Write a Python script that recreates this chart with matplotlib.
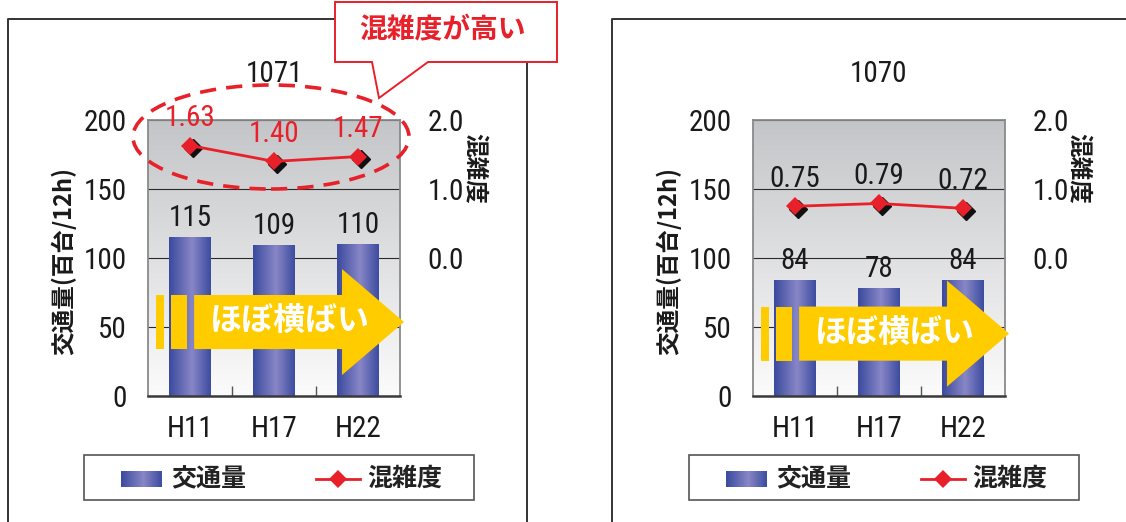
import numpy as np
import matplotlib
matplotlib.use("Agg")
import matplotlib.pyplot as plt
from matplotlib.patches import Polygon, Rectangle, Ellipse
from matplotlib.lines import Line2D
from matplotlib.colors import LinearSegmentedColormap
from matplotlib.ticker import FormatStrFormatter
from matplotlib.transforms import offset_copy

# ---- data ----
years = ["H11", "H17", "H22"]
traffic_1071 = [115, 109, 110]
congestion_1071 = [1.63, 1.40, 1.47]
traffic_1070 = [84, 78, 84]
congestion_1070 = [0.75, 0.79, 0.72]
route_titles = ["1071", "1070"]
traffic_ticks = [0, 50, 100, 150, 200]
congestion_ticks = [0.0, 1.0, 2.0]

W, H = 1126, 522
fig = plt.figure(figsize=(W / 100, H / 100), dpi=100)
fig.patch.set_facecolor("white")

NUM = ["Roboto Condensed", "Liberation Sans", "DejaVu Sans"]
JP = ["Noto Sans CJK JP", "DejaVu Sans"]
NUM_SIZE = 21
RED = "#E8202A"
YELLOW = "#FFCC00"
DARK = "#1a1a1a"


def px(x, y):
    """pixel position (origin top-left) -> figure fraction"""
    return (x / W, 1 - y / H)


bar_cmap = LinearSegmentedColormap.from_list(
    "bar", [(0.0, "#3A4A9E"), (0.55, "#8886C6"), (1.0, "#3C4CA0")])
bg_cmap = LinearSegmentedColormap.from_list(
    "bg", [(0.0, "#FBFBFB"), (1.0, "#C4C5C8")])
hgrad = np.linspace(0, 1, 256).reshape(1, -1)
vgrad = np.linspace(0, 1, 256).reshape(-1, 1)


def panel(left_px, title, traffic, congestion, line_label_color, arrow_cy):
    top_px, bot_px, w_px = 120, 396, 252
    ax = fig.add_axes([left_px / W, 1 - bot_px / H, w_px / W, (bot_px - top_px) / H])
    x = np.arange(len(years))

    # plot-area background
    ax.imshow(vgrad, cmap=bg_cmap, extent=[0, 1, 0, 1], transform=ax.transAxes,
              aspect="auto", origin="lower", zorder=0)

    bars = ax.bar(x, traffic, width=0.5, color="#3F4FA0", zorder=2)
    for b in bars:
        x0, w, h = b.get_x(), b.get_width(), b.get_height()
        ax.imshow(hgrad, cmap=bar_cmap, extent=[x0, x0 + w, 0, h],
                  aspect="auto", zorder=2.1)
        ax.annotate(f"{h:.0f}", (b.get_x() + w / 2, h), xytext=(0, 8.2),
                    textcoords="offset points", ha="center", va="baseline",
                    fontsize=NUM_SIZE, family=NUM, color=DARK, zorder=6)

    ax.set_xlim(-0.5, len(years) - 0.5)
    ax.set_ylim(0, 200)
    ax.set_yticks(traffic_ticks)
    ax.set_xticks(x)
    ax.set_xticklabels(years)
    ax.set_xticks([0.5, 1.5], minor=True)
    ax.tick_params(axis="x", which="major", length=0, pad=14)
    ax.tick_params(axis="x", which="minor", direction="in", length=7,
                   color="#555555", width=1)
    ax.tick_params(axis="y", length=0, pad=15)
    for lab in ax.get_xticklabels() + ax.get_yticklabels():
        lab.set_fontfamily(NUM)
        lab.set_fontsize(NUM_SIZE)
        lab.set_color(DARK)
    ax.yaxis.grid(True, color="#2a2a2a", lw=0.8, zorder=1)
    ax.set_axisbelow(True)
    for s in ("left", "right", "top"):
        ax.spines[s].set_color("#8a8a8a")
        ax.spines[s].set_linewidth(1.3)
    ax.spines["bottom"].set_color("#3a3a3a")
    ax.spines["bottom"].set_linewidth(1.8)

    ax.set_ylabel("交通量(百台/12h)", family=JP, fontsize=17, fontweight="bold",
                  color=DARK)
    ax.yaxis.set_label_coords((76 - 148) / w_px, 0.49)

    ax.text(0.5, (bot_px - 82) / (bot_px - top_px), title, transform=ax.transAxes,
            ha="center", va="baseline", fontsize=NUM_SIZE, family=NUM, color=DARK)

    # congestion on the secondary axis
    ax2 = ax.twinx()
    ax2.set_ylim(-2, 2)
    ax2.set_yticks(congestion_ticks)
    ax2.yaxis.set_major_formatter(FormatStrFormatter("%.1f"))
    ax2.tick_params(axis="y", length=0, pad=20)
    for lab in ax2.get_yticklabels():
        lab.set_fontfamily(NUM)
        lab.set_fontsize(NUM_SIZE)
        lab.set_color(DARK)
    for s in ax2.spines.values():
        s.set_visible(False)
    shadow = offset_copy(ax2.transData, fig=fig, x=2.5, y=-2.5, units="dots")
    ax2.plot(x, congestion, ls="none", marker="D", ms=9, color="#111111",
             transform=shadow, zorder=3)
    ax2.plot(x, congestion, color=RED, lw=2, marker="D", ms=9,
             markeredgewidth=0, zorder=4)
    for xi, c in zip(x, congestion):
        ax2.annotate(f"{c:.2f}", (xi, c), xytext=(0, 14.0), textcoords="offset points",
                     ha="center", va="baseline", fontsize=NUM_SIZE, family=NUM,
                     color=line_label_color)

    # trend arrow
    cy = arrow_cy
    bh, hh = 0.098, 0.192
    for a, b in [(0.032, 0.063), (0.091, 0.155)]:
        ax.add_patch(Rectangle((a, cy - bh), b - a, 2 * bh, transform=ax.transAxes,
                               color=YELLOW, lw=0, zorder=5, clip_on=False))
    arrow = Polygon([(0.183, cy - bh), (0.77, cy - bh), (0.77, cy - hh),
                     (1.016, cy), (0.77, cy + hh), (0.77, cy + bh), (0.183, cy + bh)],
                    closed=True, transform=ax.transAxes, color=YELLOW, lw=0,
                    zorder=5, clip_on=False)
    ax.add_patch(arrow)
    ax.text(0.558, cy, "ほぼ横ばい", transform=ax.transAxes, ha="center",
            va="center", family=JP, fontsize=23, fontweight="bold", color="white",
            zorder=6)
    return ax, ax2


# panel frames
fig.add_artist(Line2D([px(8, 0)[0], px(8, 0)[0], px(527, 0)[0], px(527, 0)[0]],
                      [px(0, 530)[1], px(0, 19)[1], px(0, 19)[1], px(0, 530)[1]],
                      transform=fig.transFigure, color="#333333", lw=1.4, zorder=0))
fig.add_artist(Line2D([px(612, 0)[0], px(612, 0)[0], px(1140, 0)[0]],
                      [px(0, 530)[1], px(0, 19)[1], px(0, 19)[1]],
                      transform=fig.transFigure, color="#333333", lw=1.4, zorder=0))

axL, axL2 = panel(148, route_titles[0], traffic_1071, congestion_1071, RED, 0.268)
axR, axR2 = panel(753, route_titles[1], traffic_1070, congestion_1070, DARK, 0.226)

# secondary axis titles
for xc in (475, 1079):
    fig.text(*px(xc, 168), "混雑度", rotation=-90, ha="center", va="center",
             family=JP, fontsize=17, fontweight="bold", color=DARK)

# legends
for off in (0, 605):
    fig.add_artist(Rectangle(px(84 + off, 500), 390 / W, 45 / H, transform=fig.transFigure,
                             facecolor="white", edgecolor="#555555", lw=1.2, zorder=3))
    lax = fig.add_axes([(121 + off) / W, 1 - 487 / H, 41 / W, 16 / H], zorder=4)
    lax.imshow(hgrad, cmap=bar_cmap, aspect="auto", extent=[0, 1, 0, 1])
    lax.set_axis_off()
    fig.text(*px(171 + off, 479), "交通量", ha="left", va="center", family=JP,
             fontsize=18, fontweight="bold", color="#222222", zorder=5)
    fig.add_artist(Line2D([(316 + off) / W, (360 + off) / W], [1 - 479 / H] * 2,
                          transform=fig.transFigure, color=RED, lw=2, zorder=5))
    fig.add_artist(Line2D([(338 + off) / W], [1 - 479 / H], transform=fig.transFigure,
                          color=RED, marker="D", ms=9, mew=0, zorder=6))
    fig.text(*px(367 + off, 479), "混雑度", ha="left", va="center", family=JP,
             fontsize=18, fontweight="bold", color="#222222", zorder=5)

# highlight: dashed ellipse and callout
fig.add_artist(Ellipse(px(271, 137), 276 / W, 104 / H, transform=fig.transFigure,
                       fill=False, edgecolor=RED, lw=2.6, ls=(0, (4.5, 2.8)), zorder=10))
callout = Polygon([px(335, 2), px(557, 2), px(557, 62), px(428, 62), px(379, 98),
                   px(372, 62), px(335, 62)], closed=True, transform=fig.transFigure,
                  facecolor="white", edgecolor=RED, lw=1.4, zorder=11)
fig.add_artist(callout)
fig.text(*px(442, 30), "混雑度が高い", ha="center", va="center", family=JP,
         fontsize=20, fontweight="bold", color=RED, zorder=12)

fig.savefig("out.png", dpi=100)
